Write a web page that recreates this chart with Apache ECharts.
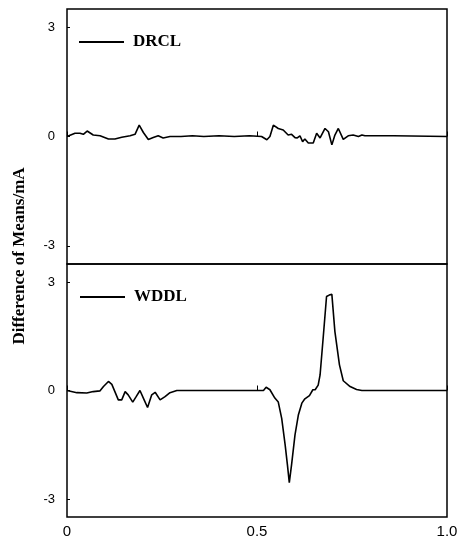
<!DOCTYPE html>
<html>
<head>
    <meta charset="UTF-8">
    <title>Difference of Means</title>
    <script src="https://cdn.jsdelivr.net/npm/echarts@6/dist/echarts.min.js"></script>
    <style>
        body { margin: 0; background: #fff; }
        #chart { width: 471px; height: 539px; }
    </style>
</head>
<body>
    <div id="chart"></div>
    <script>
        // DRCL (upper panel)
        const drclX = [0, 0.021, 0.034, 0.043, 0.053, 0.069, 0.087, 0.109, 0.126, 0.144, 0.166, 0.179, 0.190, 0.201,
            0.214, 0.227, 0.240, 0.253, 0.271, 0.30, 0.33, 0.36, 0.40, 0.44, 0.48, 0.512, 0.526, 0.534, 0.543,
            0.556, 0.569, 0.582, 0.591, 0.600, 0.606, 0.613, 0.620, 0.626, 0.635, 0.648, 0.657, 0.666, 0.679,
            0.688, 0.697, 0.705, 0.714, 0.727, 0.740, 0.753, 0.767, 0.776, 0.784, 0.859, 0.863, 1.0];
        const drclY = [0, 0.09, 0.09, 0.06, 0.15, 0.04, 0.02, -0.07, -0.07, -0.02, 0.02, 0.06, 0.31, 0.11,
            -0.08, -0.03, 0.02, -0.04, 0, 0, 0.02, 0, 0.02, 0, 0.02, 0, -0.09, 0, 0.31,
            0.22, 0.18, 0.04, 0.06, -0.03, -0.04, 0.02, -0.14, -0.07, -0.18, -0.18, 0.09, -0.04, 0.22,
            0.13, -0.23, 0.04, 0.22, -0.08, 0.02, 0.04, 0, 0.04, 0.02, 0.02, 0, 0];

        // WDDL (lower panel)
        const wddlX = [0, 0.026, 0.052, 0.069, 0.087, 0.096, 0.109, 0.118, 0.126, 0.135, 0.144, 0.153, 0.161, 0.173,
            0.182, 0.192, 0.203, 0.212, 0.223, 0.232, 0.245, 0.258, 0.271, 0.289, 0.517, 0.524, 0.534, 0.547,
            0.556, 0.565, 0.574, 0.580, 0.585, 0.591, 0.600, 0.609, 0.618, 0.626, 0.638, 0.647, 0.653, 0.661,
            0.666, 0.674, 0.683, 0.690, 0.697, 0.705, 0.717, 0.727, 0.745, 0.762, 0.776, 1.0];
        const wddlY = [0, -0.06, -0.07, -0.03, -0.01, 0.11, 0.25, 0.17, -0.03, -0.26, -0.26, -0.03, -0.12, -0.32,
            -0.17, 0, -0.26, -0.47, -0.12, -0.05, -0.26, -0.17, -0.06, 0, 0, 0.09, 0.02, -0.21,
            -0.32, -0.77, -1.50, -2.05, -2.55, -2.05, -1.23, -0.67, -0.35, -0.23, -0.14, 0.02, 0.02, 0.15,
            0.43, 1.44, 2.60, 2.64, 2.66, 1.63, 0.71, 0.27, 0.11, 0.03, 0, 0];

        const yTicks = [-3, 0, 3];

        const myChart = echarts.init(document.getElementById('chart'));

        const pairs = (xs, ys) => xs.map((x, i) => [x, ys[i]]);

        function yAxisFor(idx) {
            return {
                type: 'value', gridIndex: idx, min: -3.5, max: 3.5,
                axisLine: { show: false },
                axisTick: { inside: true, length: 3, customValues: yTicks, lineStyle: { color: '#000', width: 1 } },
                axisLabel: {
                    customValues: yTicks, margin: 12, color: '#000',
                    fontFamily: 'Liberation Sans', fontSize: 13
                },
                splitLine: { show: false }
            };
        }

        function xAxisFor(idx, showLabel) {
            return {
                type: 'value', gridIndex: idx, min: 0, max: 1, interval: 0.5,
                axisLine: { show: false },
                axisTick: { inside: true, length: 5, lineStyle: { color: '#000', width: 1 } },
                axisLabel: {
                    show: showLabel, margin: 7, color: '#000',
                    fontFamily: 'Liberation Sans', fontSize: 15,
                    formatter: v => v === 0 ? '0' : v.toFixed(1)
                },
                splitLine: { show: false }
            };
        }

        const legendText = { fontFamily: 'Liberation Serif', fontWeight: 'bold', fontSize: 17, color: '#000', lineHeight: 20, padding: [0, 0, 0, 4] };

        const option = {
            animation: false,
            grid: [
                { left: 67, right: 24, top: 9, height: 255, show: true, borderColor: '#000', borderWidth: 1.5 },
                { left: 67, right: 24, top: 264, height: 254, show: true, borderColor: '#000', borderWidth: 1.5 }
            ],
            xAxis: [xAxisFor(0, false), xAxisFor(1, true)],
            yAxis: [yAxisFor(0), yAxisFor(1)],
            legend: [
                { data: ['DRCL'], left: 79, top: 32, padding: 0, icon: 'rect', itemWidth: 45, itemHeight: 2, textStyle: legendText },
                { data: ['WDDL'], left: 80, top: 287, padding: 0, icon: 'rect', itemWidth: 45, itemHeight: 2, textStyle: legendText }
            ],
            graphic: [{
                type: 'text', x: 20, y: 256, rotation: Math.PI / 2,
                style: {
                    text: 'Difference of Means/mA', fill: '#000',
                    font: 'bold 17px "Liberation Serif"', align: 'center', verticalAlign: 'middle'
                }
            }],
            series: [
                {
                    name: 'DRCL', type: 'line', xAxisIndex: 0, yAxisIndex: 0, data: pairs(drclX, drclY),
                    symbol: 'none', lineStyle: { color: '#000', width: 1.6 }, itemStyle: { color: '#000' }
                },
                {
                    name: 'WDDL', type: 'line', xAxisIndex: 1, yAxisIndex: 1, data: pairs(wddlX, wddlY),
                    symbol: 'none', lineStyle: { color: '#000', width: 1.6 }, itemStyle: { color: '#000' }
                }
            ]
        };

        myChart.setOption(option);
        window.addEventListener('resize', () => myChart.resize());
    </script>
</body>
</html>
